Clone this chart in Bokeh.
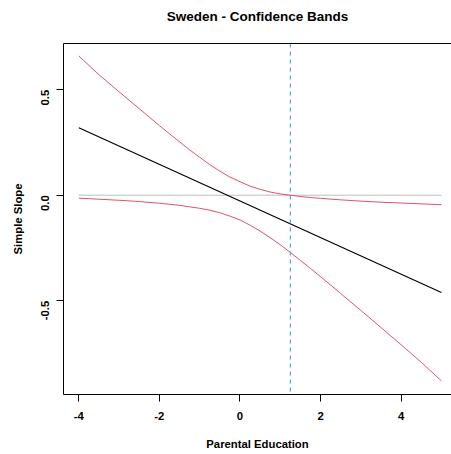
import math
from bokeh.plotting import figure
from bokeh.models import FixedTicker, LinearAxis, Range1d, Span
from bokeh.embed import file_html
from bokeh.resources import INLINE

# ---- data ----
moderator = [-4, -3.5, -3, -2.5, -2, -1.75, -1.5, -1.25, -1, -0.75, -0.5, -0.25, 0,
             0.25, 0.5, 0.75, 1, 1.25, 1.5, 1.75, 2, 2.5, 3, 3.5, 4, 4.5, 5]
upper_band = [0.660, 0.571, 0.490, 0.410, 0.330, 0.291, 0.253, 0.215, 0.180, 0.145, 0.114, 0.086, 0.064,
              0.043, 0.028, 0.015, 0.006, 0.000, -0.006, -0.011, -0.015, -0.022, -0.028, -0.033, -0.037,
              -0.041, -0.045]
lower_band = [-0.014, -0.019, -0.024, -0.030, -0.038, -0.043, -0.048, -0.055, -0.062, -0.071, -0.083,
              -0.099, -0.117, -0.142, -0.170, -0.201, -0.235, -0.271, -0.309, -0.347, -0.386, -0.466,
              -0.546, -0.627, -0.709, -0.792, -0.880]
slope_x = [-4, 5]
slope_y = [0.320, -0.461]
zero_x = [-4, 5]
zero_y = [0.0, 0.0]
jn_point = 1.25

x_ticks = [-4, -2, 0, 2, 4]
x_tick_labels = ["-4", "-2", "0", "2", "4"]
y_ticks = [-0.5, 0, 0.5]
y_tick_labels = ["-0.5", "0.0", "0.5"]
title_text = "Sweden - Confidence Bands"

FONT = "Liberation Sans"
FS = "11.3px"

p = figure(width=451, height=454,
           x_range=Range1d(-4.38, 5.25), y_range=Range1d(-0.9445, 0.719),
           output_backend="svg", toolbar_location=None,
           min_border_left=63, min_border_right=0, min_border_top=43, min_border_bottom=60)
p.outline_line_color = None
p.xgrid.visible = False
p.ygrid.visible = False
p.background_fill_color = "white"
p.border_fill_color = "white"

xa = p.below[0]
xa.ticker = FixedTicker(ticks=x_ticks)
xa.major_label_overrides = {t: l for t, l in zip(x_ticks, x_tick_labels)}
xa.major_tick_out = 7
xa.major_tick_in = 0
xa.minor_tick_out = 0
xa.minor_tick_in = 0
xa.major_label_standoff = 10
xa.major_label_text_font = FONT
xa.major_label_text_font_style = "bold"
xa.major_label_text_font_size = FS
xa.major_label_text_color = "black"
xa.axis_label = "Parental Education"
xa.axis_label_text_font = FONT
xa.axis_label_text_font_style = "bold"
xa.axis_label_text_font_size = FS
xa.axis_label_text_color = "black"
xa.axis_label_standoff = 15
xa.axis_line_color = "black"
xa.major_tick_line_color = "black"

ya = p.left[0]
ya.ticker = FixedTicker(ticks=y_ticks)
ya.major_label_overrides = {t: l for t, l in zip(y_ticks, y_tick_labels)}
ya.major_label_orientation = math.pi / 2
ya.major_tick_out = 7
ya.major_tick_in = 0
ya.minor_tick_out = 0
ya.minor_tick_in = 0
ya.major_label_standoff = 11
ya.major_label_text_font = FONT
ya.major_label_text_font_style = "bold"
ya.major_label_text_font_size = FS
ya.major_label_text_color = "black"
ya.axis_label = "Simple Slope"
ya.axis_label_text_font = FONT
ya.axis_label_text_font_style = "bold"
ya.axis_label_text_font_size = FS
ya.axis_label_text_color = "black"
ya.axis_label_standoff = 11
ya.axis_line_color = "black"
ya.major_tick_line_color = "black"

# top border as a tickless axis; its label carries the chart title
top = LinearAxis(ticker=FixedTicker(ticks=[]), major_tick_out=0, major_tick_in=0,
                 minor_tick_out=0, minor_tick_in=0, major_label_text_font_size="0px",
                 major_tick_line_color=None, minor_tick_line_color=None,
                 major_label_standoff=0, axis_line_color="black", axis_line_width=1,
                 axis_label=title_text, axis_label_standoff=20,
                 axis_label_text_font=FONT, axis_label_text_font_style="bold",
                 axis_label_text_font_size="13.5px", axis_label_text_color="black")
p.add_layout(top, "above")

p.line(zero_x, zero_y, line_color="#BEBEBE", line_width=1)
p.line(slope_x, slope_y, line_color="black", line_width=1.2)
p.line(moderator, upper_band, line_color="#DF536B", line_width=1)
p.line(moderator, lower_band, line_color="#DF536B", line_width=1)
p.add_layout(Span(location=jn_point, dimension="height", line_color="#2297E6",
                  line_width=1, line_dash="4 4"))

open("out.html", "w").write(file_html(p, INLINE))
